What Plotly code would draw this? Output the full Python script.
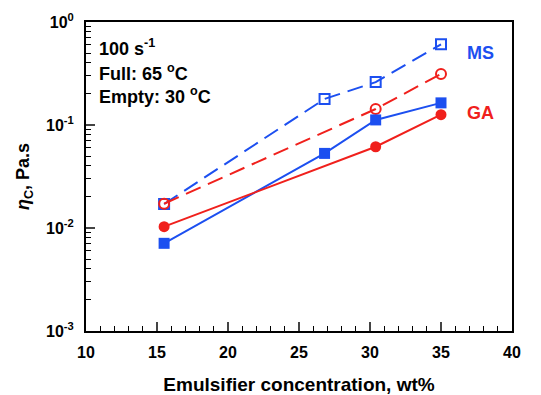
import plotly.graph_objects as go

# Data
conc_ms = [15.5, 26.8, 30.4, 35.0]
conc_ga = [15.5, 30.4, 35.0]
ms_full = [0.0071, 0.053, 0.112, 0.164]
ga_full = [0.0103, 0.0615, 0.126]
ms_empty = [0.0171, 0.179, 0.261, 0.607]
ga_empty = [0.0172, 0.143, 0.313]
y_tickvals = [0.001, 0.01, 0.1, 1]
y_ticktext = ["<b>10<sup>-3</sup></b>", "<b>10<sup>-2</sup></b>", "<b>10<sup>-1</sup></b>", "<b>10<sup>0</sup></b>"]
y_minor_vals = [m * d for d in [0.001, 0.01, 0.1] for m in range(2, 10)]
x_tickvals = [10, 15, 20, 25, 30, 35, 40]

BLUE = "#1c4ff0"
RED = "#f0201c"
FONT = "Liberation Sans, Arial, sans-serif"

fig = go.Figure()
fig.add_trace(go.Scatter(x=conc_ms, y=ms_empty, mode="lines+markers",
                         line=dict(color=BLUE, width=2, dash="16px,8px"),
                         marker=dict(symbol="square-open", size=10, color=BLUE, line=dict(width=2))))
fig.add_trace(go.Scatter(x=conc_ga, y=ga_empty, mode="lines+markers",
                         line=dict(color=RED, width=2, dash="16px,8px"),
                         marker=dict(symbol="circle-open", size=10, color=RED, line=dict(width=2))))
fig.add_trace(go.Scatter(x=conc_ms, y=ms_full, mode="lines+markers",
                         line=dict(color=BLUE, width=2),
                         marker=dict(symbol="square", size=11, color=BLUE)))
fig.add_trace(go.Scatter(x=conc_ga, y=ga_full, mode="lines+markers",
                         line=dict(color=RED, width=2),
                         marker=dict(symbol="circle", size=11, color=RED)))

fig.update_layout(
    width=541, height=395,
    margin=dict(l=86, r=29, t=22, b=64),
    paper_bgcolor="white", plot_bgcolor="white",
    showlegend=False,
    font=dict(family=FONT, color="black", size=16),
    xaxis=dict(range=[10, 40], tickvals=x_tickvals, ticktext=[f"<b>{v}</b>" for v in x_tickvals],
               ticks="inside", ticklen=9, tickwidth=1.5, automargin=False, ticklabelstandoff=6,
               showgrid=False, zeroline=False, showline=True, linewidth=2, linecolor="black",
               mirror=True, tickfont=dict(size=16, family=FONT, weight="bold"),
               minor=dict(ticks="inside", dtick=1, ticklen=5, tickwidth=1, tickcolor="black"),
               title=dict(text="<b>Emulsifier concentration, wt%</b>", font=dict(size=19), standoff=22)),
    yaxis=dict(type="log", range=[-3, 0], tickvals=y_tickvals, ticktext=y_ticktext,
               ticks="inside", ticklen=9, tickwidth=1.5, automargin=False, ticklabelstandoff=7,
               showgrid=False, zeroline=False, showline=True, linewidth=2, linecolor="black",
               mirror=True, tickfont=dict(size=16, family=FONT, weight="bold"),
               title=dict(text="<b><i>η</i><sub>C</sub>, Pa.s</b>", font=dict(size=18), standoff=12)),
    yaxis2=dict(type="log", range=[-3, 0], overlaying="y", side="left", anchor="x",
                tickvals=y_minor_vals, showticklabels=False, ticks="inside", ticklen=5,
                tickwidth=1, tickcolor="black", showgrid=False, zeroline=False, showline=False,
                automargin=False),
)
fig.add_trace(go.Scatter(x=[None], y=[None], yaxis="y2", showlegend=False, hoverinfo="skip"))

ann_font = dict(size=18, family=FONT, color="black")
fig.add_annotation(xref="paper", yref="paper", x=0.026, y=0.919, xanchor="left", yanchor="middle",
                   text="<b>100 s<sup>-1</sup></b>", showarrow=False, font=ann_font)
fig.add_annotation(xref="paper", yref="paper", x=0.026, y=0.838, xanchor="left", yanchor="middle",
                   text="<b>Full: 65 <sup>o</sup>C</b>", showarrow=False, font=ann_font)
fig.add_annotation(xref="paper", yref="paper", x=0.026, y=0.762, xanchor="left", yanchor="middle",
                   text="<b>Empty: 30 <sup>o</sup>C</b>", showarrow=False, font=ann_font)
fig.add_annotation(xref="paper", yref="paper", x=0.889, y=0.9, xanchor="left", yanchor="middle",
                   text="<b>MS</b>", showarrow=False, font=dict(size=18, family=FONT, color=BLUE))
fig.add_annotation(xref="paper", yref="paper", x=0.889, y=0.705, xanchor="left", yanchor="middle",
                   text="<b>GA</b>", showarrow=False, font=dict(size=18, family=FONT, color=RED))

fig.write_html("out.html", config={"displayModeBar": False},
               post_script="document.body.style.margin='0px';")
